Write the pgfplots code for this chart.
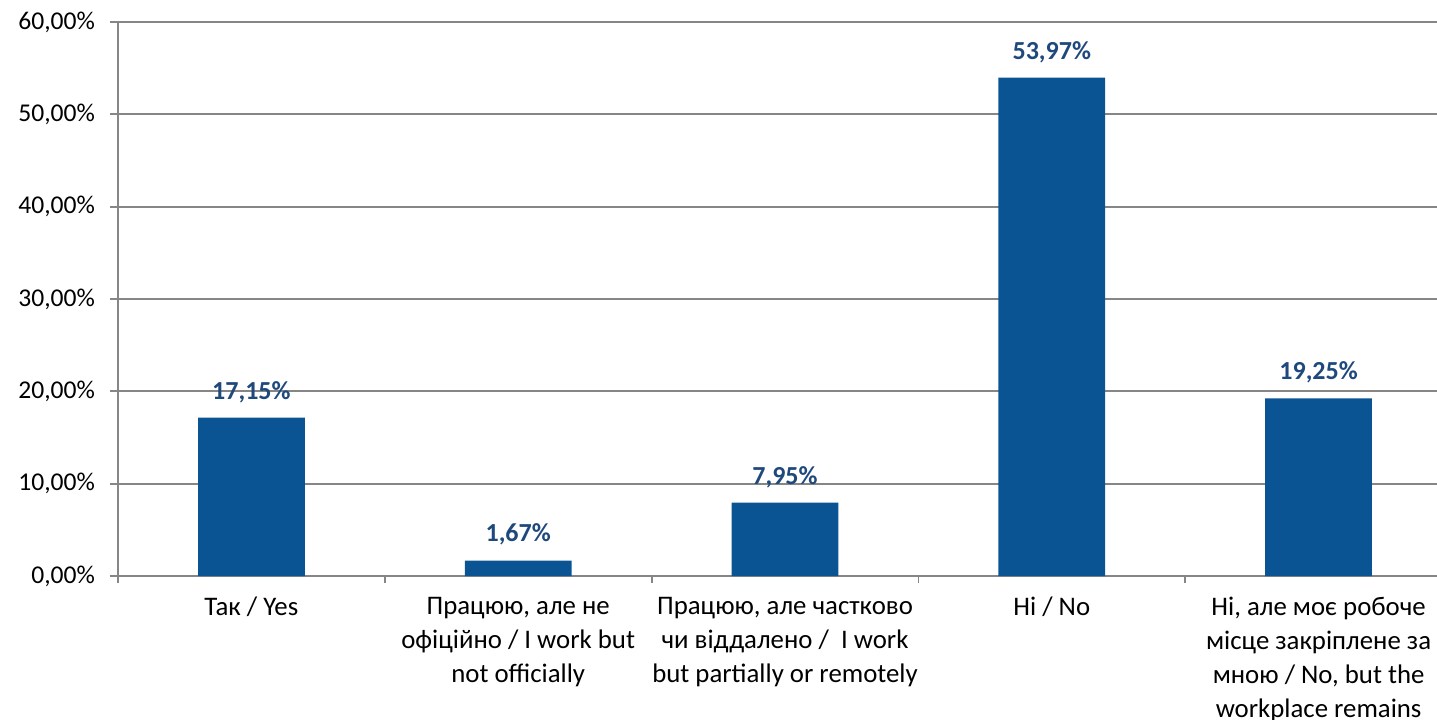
\documentclass[border=0pt]{standalone}
\usepackage{fontspec}
\setmainfont{Carlito}
\usepackage{pgfplots}
\pgfplotsset{compat=1.18}

\definecolor{barblue}{RGB}{11,84,147}
\definecolor{labblue}{RGB}{31,73,125}
\definecolor{gridgray}{RGB}{134,134,134}

\begin{document}
\begin{tikzpicture}
% 1 px of the reference = 0.5pt
\begin{axis}[
    at={(59pt,71.5pt)}, anchor=south west,
    scale only axis,
    width=667pt, height=277pt,
    xmin=-0.5, xmax=4.5,
    ymin=0, ymax=60,
    axis lines=left,
    axis line style={-, draw=gridgray, line width=0.9pt},
    ymajorgrids,
    grid style={gridgray, line width=0.9pt},
    ytick={0,10,...,60},
    tick align=outside,
    tick style={gridgray, line width=0.9pt},
    major tick length=4pt,
    minor tick length=3.5pt,
    xtick={0,1,2,3,4},
    major x tick style={draw=none},
    minor xtick={-0.5,0.5,1.5,2.5,3.5,4.5},
    xticklabels={
        Так / Yes,
        {Працюю, але не\\офіційно / I work but\\not officially},
        {Працюю, але частково\\чи віддалено /\ \ I work\\but partially or remotely},
        Ні / No,
        {Ні, але моє робоче\\місце закріплене за\\мною / No, but the\\workplace remains}},
    xticklabel style={font=\fontsize{13.4}{17}\selectfont, align=center, anchor=north, yshift=-3pt},
    /pgf/number format/assume math mode=true,
    yticklabel={\pgfmathprintnumber[fixed,fixed zerofill,precision=2,use comma]{\tick}\%},
    yticklabel style={font=\fontsize{12.8}{15}\selectfont, xshift=-4pt},
    ybar, bar width=0.4,
    nodes near coords={\pgfmathprintnumber[fixed,fixed zerofill,precision=2,use comma]{\pgfplotspointmeta}\%},
    nodes near coords style={font=\bfseries\fontsize{13}{15}\selectfont, text=labblue, yshift=4pt},
    clip=false,
]
\addplot[fill=barblue, draw=none] coordinates {
    (0,17.15) (1,1.67) (2,7.95) (3,53.97) (4,19.25)
};
\end{axis}
\pgfresetboundingbox
\useasboundingbox (0,0) rectangle (718.5pt,359.5pt);
\end{tikzpicture}
\end{document}
